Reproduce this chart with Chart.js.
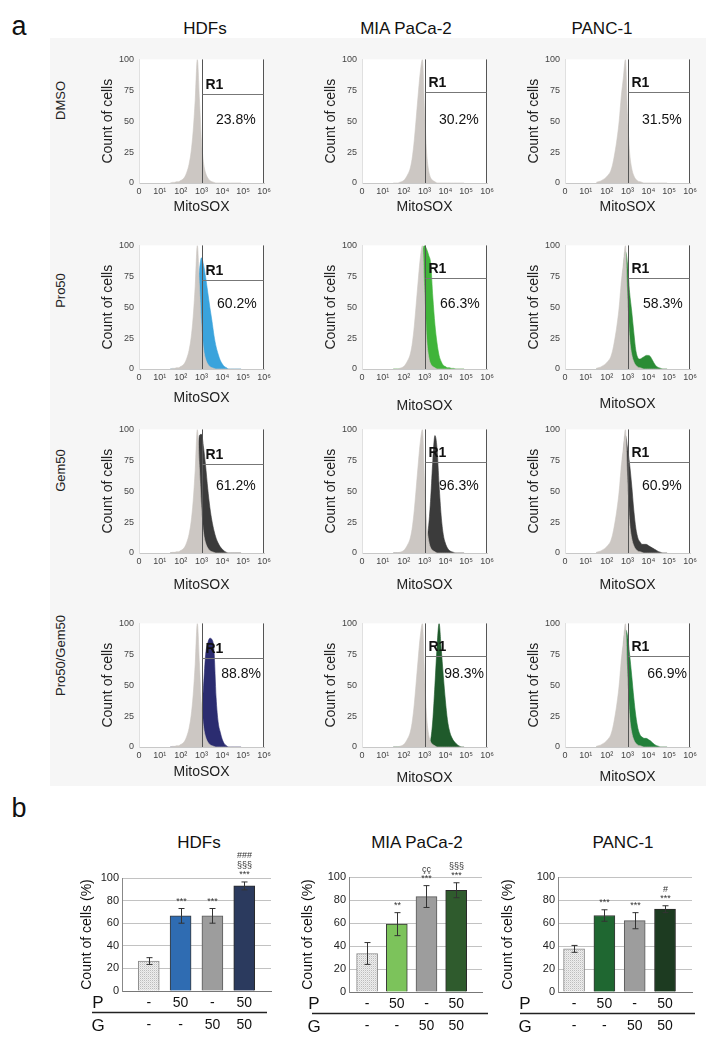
<!DOCTYPE html>
<html>
<head>
<meta charset="utf-8">
<title>MitoSOX flow cytometry</title>
<script src="https://cdn.jsdelivr.net/npm/chart.js@4.4.1/dist/chart.umd.min.js"></script>
<style>
  html, body { margin: 0; padding: 0; }
  body { width: 721px; height: 1043px; position: relative; overflow: hidden; background: #fff;
         font-family: "Liberation Sans", Arial, sans-serif; color: #111; }
  #panelA { position: absolute; left: 50px; top: 38px; width: 656px; height: 748px; background: #f6f6f6; }
  canvas { position: absolute; }
  .t { position: absolute; line-height: 1; white-space: nowrap; text-align: center; }
  .rot { position: absolute; width: 120px; height: 13px; line-height: 1; font-size: 13px; text-align: center;
         transform: rotate(-90deg); color: #222; }
</style>
</head>
<body>
<div id="panelA"></div>
<script>
// ---- panel a: histograms (x in log10 units, y = % of max count) ----
const cellLines = ['HDFs', 'MIA PaCa-2', 'PANC-1'];
const treatments = ['DMSO', 'Pro50', 'Gem50', 'Pro50/Gem50'];
const xTickLabels = ['0', '10¹', '10²', '10³', '10⁴', '10⁵', '10⁶'];
const yTicks = [0, 25, 50, 75, 100];
const gateX = 3;
const gateEnd = 6;
const gateY = [72, 74, 74];

const binX = [1.5,1.6,1.7,1.8,1.9,2.0,2.1,2.2,2.3,2.4,2.5,2.6,2.7,2.8,2.9,3.0,3.1,3.2,3.3,3.4,3.5,3.6,3.7,3.8,3.9,4.0,4.1,4.2,4.3,4.4,4.5,4.6,4.7,4.8,4.9];

// controls (DMSO, grey)
const greyHDF  = [0,0.5,0.5,1,1,2,3,5,9,15,25,42,68,100,68,34,16,8,4,2,1,0.5,0,0,0,0,0,0,0,0,0,0,0,0,0];
const greyMIA  = [0,0,0,0.5,1,2,4,7,11,19,33,52,72,90,100,60,25,10,4,2,1,0,0,0,0,0,0,0,0,0,0,0,0,0,0];
const greyPANC = [0.5,1,1.5,2.5,3.5,5,7,10,16,25,36,50,70,85,100,55,25,12,6,3,1.5,1,0.5,0,0,0,0,0,0,0,0,0,0,0,0];

// treated
const proHDF   = [0,0,0,0,0,0,0,1,2,5,10,20,40,62,80,90,84,74,62,50,39,27,18,12,7,4,2,1,0,0,0,0,0,0,0];
const proMIA   = [0,0,0,0,0,0,1,2,5,10,20,35,55,80,95,100,97,92,85,58,36,21,11,6,3,2,1,1,0.5,0.5,0,0,0,0,0];
const proPANC  = [0,0,0,1,2,3,5,7,12,18,28,40,60,80,95,85,62,47,30,15,9,8,9,10,11,11,10,7,4,2,1,0.5,0,0,0];
const gemHDF   = [0,0,0,0,0,0,1,2,4,8,15,25,45,70,95,96,85,70,52,37,26,18,12,8,5,3,1.5,0.5,0,0,0,0,0,0,0];
const gemMIA   = [0,0,0,0,0,0,0,0,0,0,0,1,2,3,4,6,10,22,45,75,95,85,55,30,15,8,4,2,1,0.5,0,0,0,0,0];
const gemPANC  = [0,0,0,1,2,3,5,7,12,18,28,40,60,80,95,85,72,55,35,20,12,9,7,7,7,6,5,4,3,2,1,0.5,0,0,0];
const comboHDF = [0,0,0,0,0,0,0,0,0,0,0,0,0,1,5,25,50,75,84,88,87,78,40,20,12,6,2.5,1,0,0,0,0,0,0,0];
const comboMIA = [0,0,0,0,0,0,0,0,0,0,0,0,0,0,0,0,0,2,6,22,50,80,100,80,58,38,22,13,8,5,3,1.5,0.5,0,0];
const comboPANC= [0,0,0,1,2,3,5,7,12,18,28,40,60,80,95,90,75,58,40,25,15,10,8,7,7,6,5,3.5,2,1,0.5,0,0,0,0];

const r1Pct = [
  ['23.8%', '30.2%', '31.5%'],
  ['60.2%', '66.3%', '58.3%'],
  ['61.2%', '96.3%', '60.9%'],
  ['88.8%', '98.3%', '66.9%']
];

// ---- panel b: bars ----
const pRow = ['-', '50', '-', '50'];
const gRow = ['-', '-', '50', '50'];
const hdfMean  = [26.5, 66.5, 66.5, 93];
const hdfErr   = [3, 6.5, 6.5, 3.5];
const miaMean  = [33.5, 59, 83, 88.5];
const miaErr   = [9.5, 10, 9.5, 6.5];
const pancMean = [37.5, 66.5, 62, 72];
const pancErr  = [3, 5, 7, 3];
const hdfSig  = [[], ['***'], ['***'], ['***', '§§§', '###']];
const miaSig  = [[], ['**'], ['***', 'çç'], ['***', '§§§']];
const pancSig = [[], ['***'], ['***'], ['***', '#']];

// ---- styles / layout ----
const FONT = '"Liberation Sans", Arial, sans-serif';
Chart.defaults.font.family = FONT;
const greyFill = '#ccc7c3';
const overlayData = [
  [null, null, null],
  [proHDF, proMIA, proPANC],
  [gemHDF, gemMIA, gemPANC],
  [comboHDF, comboMIA, comboPANC]
];
const overlayColor = [
  [null, null, null],
  ['#3aa3dc', '#40b43a', '#2b8c35'],
  ['#3b3b3b', '#3b3b3b', '#3b3b3b'],
  ['#2b2c70', '#1f5a2b', '#22803a']
];
const greyByLine = [greyHDF, greyMIA, greyPANC];
const colLeft = [89, 312, 515];
const rowTop = [49, 235, 419, 613];
const titleDrop = [[0, 0, 0], [5, 13, 11], [8, 8, 8], [1, 7, 6]];
const pctX = [4.65, 4.7, 4.65, 4.9];
const pctY = [48, 49, 51, 56];

function addText(txt, cx, top, size, weight) {
  const d = document.createElement('div');
  d.className = 't';
  d.textContent = txt;
  d.style.left = (cx - 100) + 'px';
  d.style.width = '200px';
  d.style.top = top + 'px';
  d.style.fontSize = size + 'px';
  if (weight) d.style.fontWeight = weight;
  document.body.appendChild(d);
}

function addCanvas(left, top, w, h) {
  const c = document.createElement('canvas');
  c.width = w; c.height = h;
  c.style.left = left + 'px'; c.style.top = top + 'px';
  c.style.width = w + 'px'; c.style.height = h + 'px';
  document.body.appendChild(c);
  return c;
}

// panel letters and headers
addText('a', 19, 13, 27);
addText('b', 19, 795, 27);
[205, 406, 602].forEach((cx, i) => addText(cellLines[i], cx, 20, 17));
[199, 417, 623].forEach((cx, i) => addText(cellLines[i], cx, 834, 17));
[100, 290, 470, 655].forEach((cy, i) => {
  const d = document.createElement('div');
  d.className = 'rot';
  d.textContent = treatments[i];
  d.style.left = '0px';
  d.style.top = (cy - 6.5) + 'px';
  document.body.appendChild(d);
});

const gatePlugin = {
  id: 'gate',
  beforeDraw(chart) {
    const { ctx, chartArea: a } = chart;
    ctx.save();
    ctx.fillStyle = '#fff';
    ctx.fillRect(a.left, a.top, a.right - a.left, a.bottom - a.top);
    ctx.restore();
  },
  afterDatasetsDraw(chart, args, o) {
    const { ctx, scales: { x, y } } = chart;
    const gx = Math.round(x.getPixelForValue(gateX)) + 0.5;
    const rx = Math.round(x.getPixelForValue(gateEnd)) - 0.5;
    const top = y.getPixelForValue(100), bot = y.getPixelForValue(0);
    const hy = Math.round(y.getPixelForValue(gateY[o.col])) + 0.5;
    ctx.save();
    ctx.lineWidth = 1;
    ctx.strokeStyle = '#555';
    ctx.beginPath();
    ctx.moveTo(gx, top); ctx.lineTo(gx, bot);
    ctx.moveTo(rx, top); ctx.lineTo(rx, bot);
    ctx.stroke();
    ctx.strokeStyle = '#777';
    ctx.beginPath();
    ctx.moveTo(gx, hy); ctx.lineTo(rx, hy);
    ctx.stroke();
    ctx.fillStyle = '#111';
    ctx.textBaseline = 'alphabetic';
    ctx.textAlign = 'left';
    ctx.font = 'bold 14px ' + FONT;
    ctx.fillText('R1', gx + 3, hy - 6);
    ctx.font = '14px ' + FONT;
    ctx.textAlign = 'center';
    ctx.fillText(r1Pct[o.row][o.col], x.getPixelForValue(pctX[o.row]), y.getPixelForValue(pctY[o.row]));
    ctx.restore();
  }
};

function histSet(vals, color) {
  return {
    data: binX.map((bx, i) => ({ x: bx, y: vals[i] })),
    backgroundColor: color, borderColor: color, borderWidth: 0.6,
    fill: 'origin', pointRadius: 0, cubicInterpolationMode: 'monotone'
  };
}

for (let r = 0; r < 4; r++) {
  for (let c = 0; c < 3; c++) {
    const drop = titleDrop[r][c];
    const cv = addCanvas(colLeft[c], rowTop[r], 190, 168 + drop);
    const datasets = [Object.assign(histSet(greyByLine[c], greyFill), { order: 0 })];
    if (overlayData[r][c]) datasets.push(Object.assign(histSet(overlayData[r][c], overlayColor[r][c]), { order: 1 }));
    new Chart(cv, {
      type: 'line',
      data: { datasets },
      options: {
        responsive: false, animation: false, devicePixelRatio: 1,
        layout: { padding: { top: 8, right: 15, left: 0, bottom: 0 } },
        plugins: { legend: { display: false }, tooltip: { enabled: false }, gate: { row: r, col: c } },
        scales: {
          x: {
            type: 'linear', min: 0, max: 6,
            afterBuildTicks: s => { s.ticks = xTickLabels.map((_, i) => ({ value: i })); },
            afterFit: s => { s.height = 34 + drop; },
            grid: { display: false, drawTicks: false },
            border: { color: '#c8c8c8' },
            ticks: { callback: v => xTickLabels[v], font: { size: 9 }, color: '#444', padding: 3, maxRotation: 0, autoSkip: false },
            title: { display: true, text: 'MitoSOX', font: { size: 14 }, color: '#222', padding: { top: 0, bottom: 1 } }
          },
          y: {
            min: 0, max: 100,
            afterBuildTicks: s => { s.ticks = yTicks.map(v => ({ value: v })); },
            afterFit: s => { s.width = 50; },
            grid: { display: false, drawTicks: false },
            border: { color: '#e0e0e0' },
            ticks: { font: { size: 9 }, color: '#444', padding: 5 },
            title: { display: true, text: 'Count of cells', font: { size: 14 }, color: '#222', padding: { top: 11, bottom: 0 } }
          }
        }
      },
      plugins: [gatePlugin]
    });
  }
}

// ---- bar charts ----
function dotPattern(ctx) {
  const t = document.createElement('canvas');
  t.width = 2; t.height = 2;
  const g = t.getContext('2d');
  g.fillStyle = '#eeeeee'; g.fillRect(0, 0, 2, 2);
  g.fillStyle = '#bdbdbd'; g.fillRect(0, 0, 1, 1);
  g.fillStyle = '#dcdcdc'; g.fillRect(1, 1, 1, 1);
  return ctx.createPattern(t, 'repeat');
}

const barExtras = {
  id: 'barExtras',
  afterDatasetsDraw(chart, args, o) {
    const { ctx, chartArea: a, scales: { x, y } } = chart;
    ctx.save();
    ctx.strokeStyle = '#333';
    ctx.lineWidth = 1;
    o.mean.forEach((m, i) => {
      const px = Math.round(x.getPixelForValue(i + 1)) + 0.5;
      const yHi = y.getPixelForValue(m + o.err[i]), yLo = y.getPixelForValue(m - o.err[i]);
      ctx.beginPath();
      ctx.moveTo(px, yHi); ctx.lineTo(px, yLo);
      ctx.moveTo(px - 3, yHi); ctx.lineTo(px + 3, yHi);
      ctx.moveTo(px - 3, yLo); ctx.lineTo(px + 3, yLo);
      ctx.stroke();
      ctx.fillStyle = '#333';
      ctx.font = '9px ' + FONT;
      ctx.textAlign = 'center';
      ctx.textBaseline = 'middle';
      o.sig[i].forEach((s, k) => ctx.fillText(s, px, yHi - 7 - k * 9.5));
    });
    // P / G row headers and divider
    ctx.fillStyle = '#111';
    ctx.font = '17px ' + FONT;
    ctx.textAlign = 'center';
    ctx.textBaseline = 'middle';
    ctx.fillText('P', a.left + o.pX, a.bottom + 12);
    ctx.fillText('G', a.left + o.pX, a.bottom + 35);
    ctx.strokeStyle = '#222';
    ctx.lineWidth = 1.5;
    ctx.beginPath();
    ctx.moveTo(a.left + o.lineL, a.bottom + 21.5);
    ctx.lineTo(a.right + o.lineR, a.bottom + 21.5);
    ctx.stroke();
    ctx.restore();
  }
};

const barPanels = [
  { mean: hdfMean, err: hdfErr, sig: hdfSig, colors: ['#2f6cb2', '#9d9d9d', '#2b3a5e'],
    left: 52, top: 840, w: 230, padT: 38, plotH: 113, padR: 11, xMin: 0.16, xMax: 4.84, titlePad: 27, pX: -24, lineL: -30, lineR: -4 },
  { mean: miaMean, err: miaErr, sig: miaSig, colors: ['#7cc35b', '#9d9d9d', '#2f5b2d'],
    left: 279, top: 840, w: 215, padT: 37, plotH: 115, padR: 12, xMin: 0.39, xMax: 4.87, titlePad: 21, pX: -35, lineL: -37, lineR: 6 },
  { mean: pancMean, err: pancErr, sig: pancSig, colors: ['#1f6731', '#9d9d9d', '#1d3b21'],
    left: 488, top: 840, w: 225, padT: 37, plotH: 115, padR: 21, xMin: 0.47, xMax: 4.89, titlePad: 12, pX: -33, lineL: -38, lineR: 3 }
];

barPanels.forEach(p => {
  const h = 1043 - p.top;
  const cv = addCanvas(p.left, p.top, p.w, h);
  const fills = [dotPattern(cv.getContext('2d'))].concat(p.colors);
  new Chart(cv, {
    type: 'bar',
    data: {
      datasets: [{
        data: p.mean.map((m, i) => ({ x: i + 1, y: m })),
        backgroundColor: fills,
        borderColor: ['#8a8a8a', '#3a3a3a', '#5a5a5a', '#2a2a2a'],
        borderWidth: 1,
        barThickness: 21
      }]
    },
    options: {
      responsive: false, animation: false, devicePixelRatio: 1,
      layout: { padding: { top: p.padT, right: p.padR, left: 0, bottom: 0 } },
      plugins: { legend: { display: false }, tooltip: { enabled: false },
                 barExtras: { mean: p.mean, err: p.err, sig: p.sig, pX: p.pX, lineL: p.lineL, lineR: p.lineR } },
      scales: {
        x: {
          type: 'linear', min: p.xMin, max: p.xMax, offset: false,
          afterBuildTicks: s => { s.ticks = pRow.map((_, i) => ({ value: i + 1 })); },
          afterFit: s => { s.height = h - p.padT - p.plotH; },
          grid: { display: false, drawTicks: false, offset: false },
          border: { color: '#777' },
          ticks: { callback: v => [pRow[v - 1], gRow[v - 1]], font: { size: 14, lineHeight: 1.6 }, color: '#111', padding: 1, maxRotation: 0, autoSkip: false }
        },
        y: {
          min: 0, max: 100,
          afterBuildTicks: s => { s.ticks = [0, 20, 40, 60, 80, 100].map(v => ({ value: v })); },
          afterFit: s => { s.width = 70; },
          grid: { color: '#c2c2c2', drawTicks: false },
          border: { color: '#888' },
          ticks: { font: { size: 11 }, color: '#222', padding: 3 },
          title: { display: true, text: 'Count of cells (%)', font: { size: 14 }, color: '#111', padding: { top: p.titlePad, bottom: 0 } }
        }
      }
    },
    plugins: [barExtras]
  });
});
</script>
</body>
</html>
